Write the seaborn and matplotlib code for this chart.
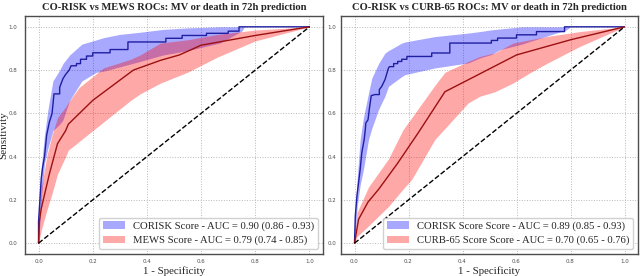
import numpy as np
import pandas as pd
import matplotlib
matplotlib.use("Agg")
import matplotlib.pyplot as plt
import seaborn as sns

# ---------------- data ----------------
titles = ["CO-RISK vs MEWS ROCs: MV or death in 72h prediction",
          "CO-RISK vs CURB-65 ROCs: MV or death in 72h prediction"]
labels_left = ["CORISK Score - AUC = 0.90 (0.86 - 0.93)",
               "MEWS Score - AUC = 0.79 (0.74 - 0.85)"]
labels_right = ["CORISK Score Score - AUC = 0.89 (0.85 - 0.93)",
                "CURB-65 Score Score - AUC = 0.70 (0.65 - 0.76)"]
ticks = [0.0, 0.2, 0.4, 0.6, 0.8, 1.0]
tick_labels = ["0.0", "0.2", "0.4", "0.6", "0.8", "1.0"]

# Left panel: CO-RISK ROC
l_blue_fpr = [0, 0.0, 0.005, 0.01, 0.015, 0.022, 0.03, 0.04, 0.05, 0.057, 0.078, 0.078, 0.09, 0.1,
              0.113, 0.12, 0.14, 0.14, 0.155, 0.155, 0.177, 0.177, 0.2, 0.2, 0.264, 0.264, 0.33,
              0.33, 0.47, 0.47, 0.53, 0.53, 0.62, 0.62, 0.7, 0.7, 0.74, 0.74, 1.0]
l_blue_tpr = [0, 0.1, 0.2, 0.3, 0.35, 0.4, 0.5, 0.56, 0.6, 0.69, 0.69, 0.72, 0.76, 0.78,
              0.8, 0.82, 0.82, 0.83, 0.83, 0.85, 0.85, 0.865, 0.865, 0.88, 0.88, 0.895, 0.895,
              0.93, 0.93, 0.947, 0.947, 0.96, 0.96, 0.97, 0.97, 0.98, 0.98, 1.0, 1.0]
l_blue_band_x = [0, 0.01, 0.022, 0.035, 0.053, 0.078, 0.09, 0.115, 0.16, 0.214, 0.24, 0.3,
                 0.375, 0.46, 0.55, 0.67, 0.75, 0.76, 1.0]
l_blue_band_hi = [0.15, 0.35, 0.5, 0.62, 0.75, 0.80, 0.83, 0.87, 0.92, 0.94, 0.95, 0.965,
                  0.975, 0.988, 0.995, 1.0, 1.0, 1.0, 1.0]
l_blue_band_lo = [0.0, 0.2, 0.37, 0.44, 0.52, 0.55, 0.57, 0.66, 0.75, 0.79, 0.795, 0.815,
                  0.84, 0.87, 0.89, 0.925, 0.98, 1.0, 1.0]
# Left panel: MEWS ROC
l_red_fpr = [0, 0.003, 0.01, 0.04, 0.07, 0.1, 0.11, 0.2, 0.35, 0.45, 0.52, 0.6, 0.8, 1.0]
l_red_tpr = [0, 0.1, 0.16, 0.32, 0.46, 0.52, 0.55, 0.66, 0.80, 0.845, 0.87, 0.915, 0.96, 1.0]
l_red_band_x = [0, 0.01, 0.03, 0.05, 0.07, 0.1, 0.11, 0.15, 0.2, 0.24, 0.34, 0.375, 0.45,
                0.55, 0.66, 0.8, 1.0]
l_red_band_hi = [0.05, 0.25, 0.4, 0.5, 0.58, 0.63, 0.65, 0.72, 0.77, 0.81, 0.85, 0.87, 0.925,
                 0.94, 0.965, 0.985, 1.0]
l_red_band_lo = [0, 0.06, 0.15, 0.23, 0.32, 0.40, 0.43, 0.47, 0.52, 0.56, 0.66, 0.69, 0.74,
                 0.79, 0.86, 0.935, 1.0]

# Right panel: CO-RISK ROC
r_blue_fpr = [0, 0.003, 0.009, 0.021, 0.027, 0.036, 0.04, 0.042, 0.05, 0.055, 0.062, 0.076,
              0.092, 0.092, 0.101, 0.113, 0.126, 0.13, 0.145, 0.145, 0.16, 0.16, 0.175, 0.175,
              0.194, 0.194, 0.286, 0.286, 0.353, 0.353, 0.507, 0.507, 0.53, 0.53, 0.6, 0.6,
              0.674, 0.674, 0.778, 0.778, 1.0]
r_blue_tpr = [0, 0.126, 0.218, 0.341, 0.418, 0.48, 0.525, 0.556, 0.57, 0.62, 0.682, 0.687,
              0.687, 0.71, 0.725, 0.756, 0.81, 0.816, 0.816, 0.83, 0.83, 0.84, 0.84, 0.85,
              0.85, 0.863, 0.863, 0.879, 0.879, 0.925, 0.925, 0.937, 0.937, 0.948, 0.948,
              0.963, 0.963, 0.978, 0.978, 1.0, 1.0]
r_blue_band_x = [0, 0.01, 0.021, 0.033, 0.052, 0.064, 0.089, 0.113, 0.126, 0.175, 0.187,
                 0.298, 0.421, 0.464, 0.507, 0.538, 0.62, 0.649, 0.785, 0.8, 1.0]
r_blue_band_hi = [0.1, 0.3, 0.48, 0.58, 0.694, 0.763, 0.83, 0.879, 0.89, 0.925, 0.93, 0.955,
                  0.971, 0.978, 0.986, 0.99, 1.0, 1.0, 1.0, 1.0, 1.0]
r_blue_band_lo = [0, 0.17, 0.27, 0.34, 0.48, 0.53, 0.618, 0.68, 0.725, 0.77, 0.779, 0.81,
                  0.833, 0.856, 0.872, 0.894, 0.92, 0.932, 0.986, 1.0, 1.0]
# Right panel: CURB-65 ROC
r_red_fpr = [0, 0.015, 0.05, 0.09, 0.16, 0.236, 0.335, 0.46, 0.6, 0.8, 1.0]
r_red_tpr = [0, 0.11, 0.19, 0.25, 0.37, 0.51, 0.70, 0.78, 0.87, 0.94, 1.0]
r_red_band_x = [0, 0.009, 0.052, 0.126, 0.18, 0.212, 0.298, 0.335, 0.421, 0.464, 0.52, 0.587,
                0.649, 0.711, 0.834, 1.0]
r_red_band_hi = [0, 0.14, 0.26, 0.39, 0.525, 0.58, 0.73, 0.79, 0.84, 0.863, 0.88, 0.925,
                 0.94, 0.955, 0.978, 1.0]
r_red_band_lo = [0, 0.03, 0.08, 0.17, 0.25, 0.295, 0.48, 0.53, 0.648, 0.679, 0.70, 0.74,
                 0.787, 0.83, 0.909, 1.0]

chance = [0.0, 1.0]

# ---------------- style ----------------
sns.set_theme(style="whitegrid")
plt.rcParams["font.family"] = ["Liberation Serif", "DejaVu Serif"]

fig = plt.figure(figsize=(6.4, 2.76), dpi=100)
ax1 = fig.add_axes([25 / 640, 22 / 276, 298 / 640, 238 / 276])
ax2 = fig.add_axes([341 / 640, 22 / 276, 297 / 640, 238 / 276])

BLUE_LINE = "#1f1fa0"
RED_LINE = "#9b1010"


def panel(ax, title, labels, bfpr, btpr, bx, blo, bhi, rfpr, rtpr, rx, rlo, rhi, ylabel, ypad):
    h1 = ax.fill_between(bx, blo, bhi, color="blue", alpha=0.34, lw=0, label=labels[0])
    h2 = ax.fill_between(rx, rlo, rhi, color="red", alpha=0.34, lw=0, label=labels[1])
    sns.lineplot(x=bfpr, y=btpr, sort=False, estimator=None, ax=ax, color=BLUE_LINE, lw=1.0)
    sns.lineplot(x=rfpr, y=rtpr, sort=False, estimator=None, ax=ax, color=RED_LINE, lw=1.0)
    sns.lineplot(x=chance, y=chance, sort=False, estimator=None, ax=ax, color="black",
                 lw=1.0, linestyle="--")
    ax.set_xlim(-0.05, 1.05)
    ax.set_ylim(-0.05, 1.05)
    ax.set_xticks(ticks)
    ax.set_xticklabels(tick_labels, fontsize=4.0, family="DejaVu Sans", color="0.3")
    ax.set_yticks(ticks)
    ax.set_yticklabels(tick_labels, fontsize=4.0, family="DejaVu Sans", color="0.3")
    ax.tick_params(axis="x", length=0, pad=3.5)
    ax.tick_params(axis="y", length=0, pad=ypad)
    ax.grid(True, linestyle=":", color="0.72", lw=0.7)
    for s in ax.spines.values():
        s.set_edgecolor("0.3")
        s.set_linewidth(1.0)
    ax.set_title(title, fontsize=7.6, fontweight="bold", pad=4)
    ax.set_xlabel("1 - Specificity", fontsize=7.8, labelpad=1.5)
    if ylabel:
        ax.set_ylabel("Sensitivity", fontsize=8.0)
        ax.yaxis.set_label_coords(-0.056, 0.5)
    else:
        ax.set_ylabel("")
    ax.legend(handles=[h1, h2], loc="lower right", fontsize=7.7, frameon=True,
              facecolor="white", edgecolor="0.8", framealpha=0.9, borderpad=0.35,
              labelspacing=0.42, handlelength=2.1, handletextpad=0.75,
              borderaxespad=0.45)


panel(ax1, titles[0], labels_left, l_blue_fpr, l_blue_tpr, l_blue_band_x, l_blue_band_lo,
      l_blue_band_hi, l_red_fpr, l_red_tpr, l_red_band_x, l_red_band_lo, l_red_band_hi, True, 5.5)
panel(ax2, titles[1], labels_right, r_blue_fpr, r_blue_tpr, r_blue_band_x, r_blue_band_lo,
      r_blue_band_hi, r_red_fpr, r_red_tpr, r_red_band_x, r_red_band_lo, r_red_band_hi, False, 3.5)

fig.savefig("out.png", dpi=100)
